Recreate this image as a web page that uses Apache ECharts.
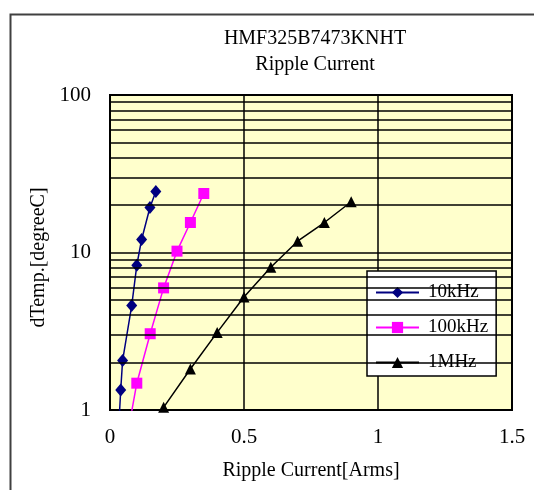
<!DOCTYPE html>
<html>
<head>
<meta charset="utf-8">
<script src="https://cdn.jsdelivr.net/npm/echarts@6/dist/echarts.min.js"></script>
<style>
html,body{margin:0;padding:0;background:#fff;}
#chart{width:534px;height:490px;}
</style>
</head>
<body>
<div id="chart"></div>
<script>
// Data
var titleLines = ['HMF325B7473KNHT', 'Ripple Current'];
var seriesNames = ['10kHz', '100kHz', '1MHz'];
var cur10k = [0.03, 0.04, 0.047, 0.081, 0.10, 0.118, 0.149, 0.171];
var temp10k = [0.65, 1.34, 2.06, 4.6, 8.3, 12.1, 19.3, 24.4];
var cur100k = [0.05, 0.10, 0.15, 0.20, 0.25, 0.30, 0.35];
var temp100k = [0.5, 1.48, 3.05, 5.96, 10.2, 15.5, 23.7];
var cur1M = [0.2, 0.3, 0.4, 0.5, 0.6, 0.7, 0.8, 0.9];
var temp1M = [1.04, 1.82, 3.11, 5.22, 8.06, 11.8, 15.5, 21.0];
var minorGridValues = [2, 3, 4, 5, 6, 7, 8, 9, 20, 30, 40, 50, 60, 70, 80, 90];
var xTickLabels = ['0', '0.5', '1', '1.5'];

function pairs(xs, ys) {
  return xs.map(function (x, i) { return [x, ys[i]]; });
}

var FONT = '"Liberation Serif", "Times New Roman", serif';
var chart = echarts.init(document.getElementById('chart'), null, {renderer: 'canvas'});

var option = {
  backgroundColor: '#ffffff',
  animation: false,
  graphic: [
    {type: 'rect', left: 8, top: 12, shape: {width: 600, height: 600},
     style: {fill: 'none', stroke: '#404040', lineWidth: 2}, silent: true, z: -10},
    {type: 'text', x: 315, y: 29,
     style: {text: titleLines[0], fill: '#000', font: '20px ' + FONT, textAlign: 'center'}},
    {type: 'text', x: 315, y: 55,
     style: {text: titleLines[1], fill: '#000', font: '20px ' + FONT, textAlign: 'center'}}
  ],
  grid: {
    left: 110, right: 22, top: 95, bottom: 80,
    show: true, backgroundColor: '#FFFFCC', borderColor: '#000', borderWidth: 2
  },
  legend: {
    data: seriesNames,
    orient: 'vertical',
    left: 367, top: 271,
    backgroundColor: '#ffffff',
    borderColor: '#000', borderWidth: 1.5, borderRadius: 0,
    padding: [12, 8, 4, 8],
    itemWidth: 43, itemHeight: 14, itemGap: 16,
    textStyle: {fontFamily: FONT, fontSize: 19, color: '#000', padding: [0, 0, 0, 4]}
  },
  xAxis: {
    type: 'value', min: 0, max: 1.5, interval: 0.5,
    name: 'Ripple Current[Arms]', nameLocation: 'middle', nameGap: 51,
    nameTextStyle: {fontFamily: FONT, fontSize: 20, color: '#000'},
    axisLine: {show: false}, axisTick: {show: false},
    axisLabel: {fontFamily: FONT, fontSize: 21, color: '#000', margin: 17,
      formatter: function (v) { var i = Math.round(v / 0.5); return xTickLabels[i] !== undefined ? xTickLabels[i] : String(v); }},
    splitLine: {show: true, lineStyle: {color: '#000', width: 1.5}}
  },
  yAxis: {
    type: 'log', logBase: 10, min: 1, max: 100,
    name: 'dTemp.[degreeC]', nameLocation: 'middle', nameGap: 60,
    nameTextStyle: {fontFamily: FONT, fontSize: 20, color: '#000', padding: [0, 10, 0, 0]},
    axisLine: {show: false}, axisTick: {show: false},
    axisLabel: {fontFamily: FONT, fontSize: 21, color: '#000', margin: 19},
    splitLine: {show: true, lineStyle: {color: '#000', width: 1.5}}
  },
  series: [
    {
      name: 'grid', type: 'line', data: [], silent: true,
      markLine: {
        silent: true, symbol: 'none', animation: false,
        label: {show: false},
        lineStyle: {color: '#000', width: 1.5, type: 'solid'},
        data: minorGridValues.map(function (v) { return {yAxis: v}; })
      },
      z: 1
    },
    {
      name: seriesNames[0], type: 'line', data: pairs(cur10k, temp10k),
      symbol: 'diamond', symbolSize: [11, 13],
      itemStyle: {color: '#000080'}, lineStyle: {color: '#000080', width: 1.5},
      clip: true, z: 3
    },
    {
      name: seriesNames[1], type: 'line', data: pairs(cur100k, temp100k),
      symbol: 'rect', symbolSize: 11,
      itemStyle: {color: '#FF00FF'}, lineStyle: {color: '#FF00FF', width: 1.5},
      clip: true, z: 3
    },
    {
      name: seriesNames[2], type: 'line', data: pairs(cur1M, temp1M),
      symbol: 'triangle', symbolSize: 11,
      itemStyle: {color: '#000000'}, lineStyle: {color: '#000000', width: 1.5},
      clip: true, z: 3
    }
  ]
};
chart.setOption(option);
</script>
</body>
</html>
